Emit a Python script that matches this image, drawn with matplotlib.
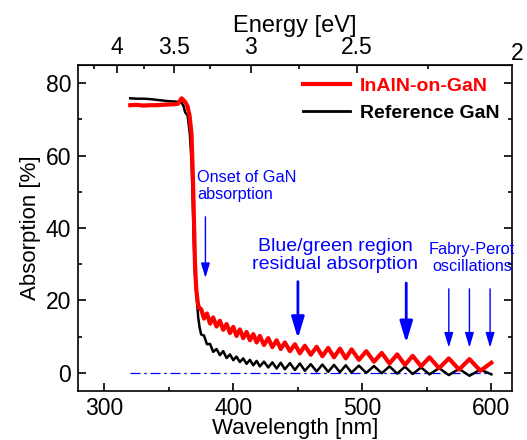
import numpy as np
import matplotlib.pyplot as plt

plt.rcParams['font.family'] = ['Liberation Sans', 'DejaVu Sans']

# plateau + band edge
red_edge_nm = [320, 325, 330, 335, 340, 345, 350, 355, 357, 359.8, 361.5, 363,
               364.5, 366, 367.5, 368.5, 369.3, 370.2, 371.2, 372.5, 373.5]
red_edge_abs = [73.9, 74.0, 73.8, 73.9, 73.9, 74.0, 74.1, 74.2, 74.3, 75.8, 75.2, 74.6,
                73.5, 71.0, 66.0, 55.0, 44.0, 30.0, 23.0, 19.0, 17.8]

black_edge_nm = [320, 325, 330, 335, 340, 345, 350, 355, 358, 360, 361.5, 362.5,
                 364.5, 366.2, 367.6, 368.5, 369.3, 370.2, 371.3, 372.7, 373.8]
black_edge_abs = [75.8, 75.7, 75.7, 75.6, 75.4, 75.2, 75.0, 74.9, 74.8, 74.5, 73.5, 72.0,
                  71.0, 66.0, 58.0, 47.0, 36.0, 27.0, 22.0, 15.3, 12.5]

# Fabry-Perot extrema (peaks / troughs), below the gap
fp_nm = [375.0, 377.2, 379.5, 381.9, 384.3, 386.9, 389.5, 392.1, 394.7, 397.3,
         399.9, 402.4, 405.0, 407.6, 410.2, 412.8, 415.4, 418.0, 420.5, 423.7,
         427.0, 430.2, 433.5, 436.7, 439.9, 443.8, 447.7, 451.5, 455.4, 460.0,
         464.5, 469.0, 473.5, 478.0, 482.6, 487.1, 491.6, 497.3, 503.0, 509.0,
         515.0, 521.0, 527.0, 533.0, 539.0, 545.5, 552.0, 559.5, 567.0, 575.0,
         583.0, 591.5, 600.0]
red_fp = [17.6, 15.0, 16.4, 13.6, 15.3, 12.8, 14.4, 11.9, 13.5, 11.0,
          12.7, 10.2, 12.0, 9.6, 11.3, 9.0, 10.7, 8.4, 10.2, 7.7,
          9.6, 7.1, 9.0, 6.6, 8.4, 6.0, 7.9, 5.4, 7.5, 5.0,
          7.2, 4.6, 6.9, 4.3, 6.7, 4.0, 6.5, 3.6, 6.0, 3.1,
          5.5, 2.6, 5.1, 2.2, 4.7, 1.8, 4.3, 1.3, 4.0, 0.9,
          3.8, 0.6, 2.8]
black_fp = [10.6, 10.3, 7.9, 8.0, 5.8, 6.6, 4.9, 6.0, 4.1, 5.1,
            3.5, 4.5, 3.0, 4.0, 2.5, 3.6, 2.1, 3.3, 1.8, 3.1,
            1.5, 2.9, 1.2, 2.8, 1.0, 2.7, 0.8, 2.6, 0.6, 2.4,
            0.4, 2.3, 0.3, 2.2, 0.2, 2.1, 0.1, 2.0, 0.0, 1.9,
            -0.1, 1.8, -0.2, 1.7, -0.3, 1.5, -0.4, 1.3, -0.6, 1.1,
            -0.8, 0.9, -0.4]

baseline_nm = [320, 600]
baseline_abs = [0, 0]

energy_major = [4, 3.5, 3, 2.5]
energy_minor = [4.25, 3.75, 3.25, 2.75, 2.25]

red_nm = red_edge_nm + fp_nm
red_abs = red_edge_abs + red_fp
black_nm = black_edge_nm + fp_nm
black_abs = black_edge_abs + black_fp


def nm_to_ev(x):
    x = np.asarray(x, dtype=float)
    with np.errstate(divide='ignore'):
        return 1239.84 / x


fig = plt.figure(figsize=(5.27, 4.4), dpi=100)
ax = fig.add_axes([78 / 527, 49 / 440, 434 / 527, 326 / 440])

ax.plot(baseline_nm, baseline_abs, color='blue', lw=0.9, ls=(0, (8, 3, 2, 3)))
l_black, = ax.plot(black_nm, black_abs, color='black', lw=1.8, label='Reference GaN')
l_red, = ax.plot(red_nm, red_abs, color='red', lw=3.0, label='InAlN-on-GaN')

ax.set_xlim(279.5, 616)
ax.set_ylim(-5, 85)
ax.set_xticks([300, 400, 500, 600])
ax.set_xticks([350, 450, 550], minor=True)
ax.set_yticks([0, 20, 40, 60, 80])
ax.set_yticks([10, 30, 50, 70], minor=True)
ax.tick_params(which='both', direction='in', right=True, top=False, width=1.2, labelsize=16.5)
ax.tick_params(which='major', length=6)
ax.tick_params(which='minor', length=3)
ax.tick_params(axis='x', pad=4)
ax.tick_params(axis='y', pad=5)
for s in ax.spines.values():
    s.set_linewidth(1.2)

ax.set_xlabel('Wavelength [nm]', fontsize=16, labelpad=-1)
ax.set_ylabel('Absorption [%]', fontsize=16, labelpad=3)

sec = ax.secondary_xaxis('top', functions=(nm_to_ev, nm_to_ev))
sec.set_xticks(energy_major)
sec.set_xticklabels(['4', '3.5', '3', '2.5'])
sec.set_xticks(energy_minor, minor=True)
sec.tick_params(which='both', direction='in', width=1.2, labelsize=16.5, pad=4)
sec.tick_params(which='major', length=6)
sec.tick_params(which='minor', length=3)
sec.set_xlabel('Energy [eV]', fontsize=17, labelpad=3)
# 2 eV sits just past the right edge
ax.text(1239.84 / 2, 1.0, '2', transform=ax.get_xaxis_transform(), fontsize=16.5,
        ha='center', va='bottom', clip_on=False)

leg = ax.legend(handles=[l_red, l_black], loc='upper right', frameon=False,
                prop={'weight': 'bold', 'size': 14}, handlelength=2.4,
                handletextpad=0.5, labelspacing=0.45, borderaxespad=0.25)
for txt, ln in zip(leg.get_texts(), leg.get_lines()):
    txt.set_color(ln.get_color())
    ln.set_linewidth(3.0 if ln.get_color() == 'red' else 2.0)

blue = '#0000ff'
ax.text(371.7, 51.5, 'Onset of GaN\nabsorption', color=blue, fontsize=11.7,
        ha='left', va='center', linespacing=1.17)
ax.text(478.7, 32.4, 'Blue/green region\nresidual absorption', color=blue, fontsize=14,
        ha='center', va='center', linespacing=1.05)
ax.text(585, 31.7, 'Fabry-Perot\noscillations', color=blue, fontsize=11.7,
        ha='center', va='center', linespacing=1.12)

small = dict(arrowstyle='-|>,head_length=1.0,head_width=0.3', color=blue, lw=1.0,
             mutation_scale=9, shrinkA=0, shrinkB=0)
big = dict(arrowstyle='-|>,head_length=1.0,head_width=0.3', color=blue, lw=2.0,
           mutation_scale=13, shrinkA=0, shrinkB=0)
ax.annotate('', xy=(378.3, 26.2), xytext=(378.3, 43.1), arrowprops=small)
ax.annotate('', xy=(450, 9.5), xytext=(450, 25.2), arrowprops=big)
ax.annotate('', xy=(534, 8.3), xytext=(534, 24.8), arrowprops=big)
for x in [567, 583, 599]:
    ax.annotate('', xy=(x, 7.0), xytext=(x, 23.2), arrowprops=small)

fig.savefig('out.png', dpi=100)
